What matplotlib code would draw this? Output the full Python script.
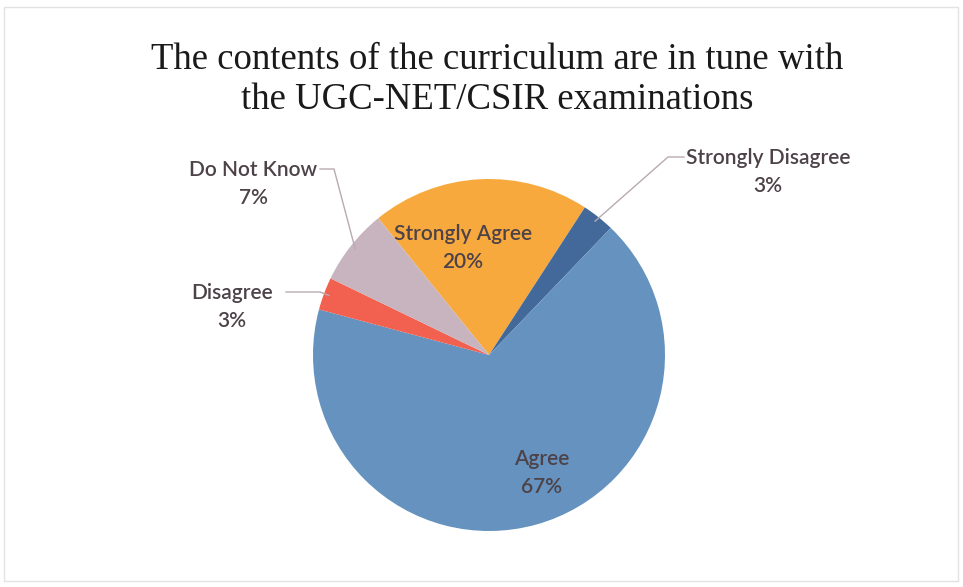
import numpy as np
import matplotlib.pyplot as plt
from matplotlib.patches import Rectangle

# data, clockwise from the orange slice
labels = ['Strongly Agree', 'Strongly Disagree', 'Agree', 'Disagree', 'Do Not Know']
values = [20, 3, 67, 3, 7]
colors = ['#F7A93E', '#42699A', '#6592BE', '#F2604F', '#C8B4BE']

W, H = 963, 587
fig = plt.figure(figsize=(W / 100, H / 100), dpi=100)

# pie centre and radius in pixels
cx, cy, r = 489, 355, 176
ax = fig.add_axes([(cx - r) / W, (H - cy - r) / H, 2 * r / W, 2 * r / H])
wedges, _ = ax.pie(values, colors=colors, startangle=129, counterclock=False,
                   radius=1, wedgeprops=dict(linewidth=0))
ax.set_xlim(-1, 1)
ax.set_ylim(-1, 1)
ax.set_aspect('equal')
ax.axis('off')

fig.add_artist(Rectangle((4 / W, 6 / H), 954 / W, 574 / H, transform=fig.transFigure,
                         fill=False, edgecolor='#e2e2e2', linewidth=1))

fig.text(497 / W, 1 - 60 / H, 'The contents of the curriculum are in tune with',
         ha='center', va='center', fontsize=26.5, family='Liberation Serif', color='#1a1a1a')
fig.text(497 / W, 1 - 100 / H, 'the UGC-NET/CSIR examinations',
         ha='center', va='center', fontsize=26.5, family='Liberation Serif', color='#1a1a1a')


def px(x, y):
    return (x - cx) / r, (cy - y) / r


# label centres (pixels) and leader line elbow points
label_pos = {
    'Strongly Agree': (463, 248),
    'Strongly Disagree': (768, 172),
    'Agree': (542, 473),
    'Disagree': (232, 307),
    'Do Not Know': (253, 184),
}
elbows = {
    'Strongly Disagree': [(684, 157), (668, 157)],
    'Disagree': [(286, 292), (320, 292)],
    'Do Not Know': [(320, 169), (334, 169)],
}

for lab, val, w in zip(labels, values, wedges):
    x, y = label_pos[lab]
    tx, ty = px(x, y)
    ax.text(tx, ty, f'{lab}\n{val}%', ha='center', va='center', fontsize=15,
            family='Lato', fontweight='semibold', color='#4d4248', linespacing=1.55,
            clip_on=False)
    if lab in elbows:
        mid = np.deg2rad((w.theta1 + w.theta2) / 2)
        pts = [px(*p) for p in elbows[lab]] + [(0.97 * np.cos(mid), 0.97 * np.sin(mid))]
        xs, ys = zip(*pts)
        ax.plot(xs, ys, color='#b9a9b1', linewidth=1, clip_on=False)

fig.savefig('out.png', dpi=100)
